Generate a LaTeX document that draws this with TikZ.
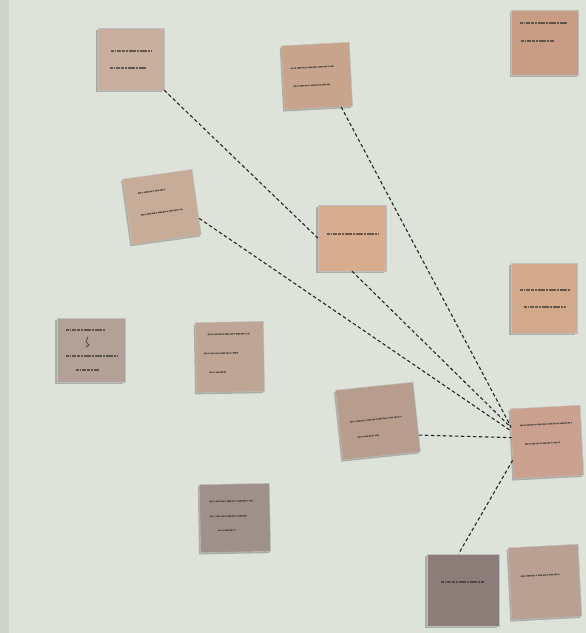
\documentclass[tikz,border=0pt]{standalone}
\usetikzlibrary{shadows}
\definecolor{wall}{HTML}{DDE3D9}
\definecolor{wallL}{HTML}{CDD4CA}
\definecolor{inkc}{HTML}{3A3430}
\definecolor{cA}{HTML}{C8AE9C}
\definecolor{cB}{HTML}{C9A48C}
\definecolor{cC}{HTML}{C89D84}
\definecolor{cD}{HTML}{C7AD98}
\definecolor{cE}{HTML}{D8AC8E}
\definecolor{cF}{HTML}{B3A197}
\definecolor{cG}{HTML}{BFA596}
\definecolor{cH}{HTML}{B89D8F}
\definecolor{cI}{HTML}{C9A18E}
\definecolor{cJ}{HTML}{A0908A}
\definecolor{cK}{HTML}{8C7D78}
\definecolor{cL}{HTML}{BAA092}
\definecolor{cM}{HTML}{D2A98A}
\tikzset{
  note/.style={rectangle, inner sep=0pt, draw=black!25, line width=0.4pt,
    drop shadow={shadow xshift=-1.6pt, shadow yshift=-1.8pt, opacity=0.35, fill=black!70}},
  conn/.style={dash pattern=on 3.5pt off 2.5pt, line width=1.1pt, black!85},
  scribble/.style={inkc, opacity=0.7, line width=1.4pt,
    dash pattern=on 3pt off 0.8pt on 1.6pt off 1pt on 4pt off 0.7pt}
}
\newcommand\stickynote[7]{%
  \node[note, fill=#7, minimum width=#4pt, minimum height=#5pt, rotate=#6] (#1) at (#2,#3) {};}
% scribble: center x, center y, rotation, x1, x2, y
\newcommand\scrib[6]{%
  \draw[scribble, rotate around={#3:(#1,#2)}] (#4,#6) -- (#5,#6);}
\begin{document}
\begin{tikzpicture}[x=1pt,y=-1pt]
\fill[wall] (0,0) rectangle (586,633);
\fill[wallL] (0,0) rectangle (9,633);
\useasboundingbox (0,0) rectangle (586,633);

% notes
\stickynote{n1}{131}{59}{66}{62}{0}{cA}
\stickynote{n2}{317}{76}{68}{64}{3}{cB}
\stickynote{n3}{545}{43}{67}{65}{0}{cC}
\stickynote{n4}{162}{207}{70}{66}{8}{cD}
\stickynote{n5}{352}{238}{68}{66}{0}{cE}
\stickynote{n6}{91}{350}{68}{64}{0}{cF}
\stickynote{n7}{230}{357}{68}{70}{1}{cG}
\stickynote{n8}{378}{421}{78}{70}{6}{cH}
\stickynote{n9}{547}{442}{70}{70}{3}{cI}
\stickynote{n10}{235}{518}{70}{68}{1}{cJ}
\stickynote{n11}{463}{590}{72}{72}{0}{cK}
\stickynote{n12}{545}{582}{70}{72}{3}{cL}
\stickynote{n13}{544}{298}{66}{70}{0}{cM}

% scribbles (illegible handwriting)
\scrib{131}{59}{0}{111}{152}{51}
\scrib{131}{59}{0}{110}{146}{68}
\scrib{317}{76}{3}{291}{334}{67}
\scrib{317}{76}{3}{293}{330}{85}
\scrib{545}{43}{0}{520}{568}{23}
\scrib{545}{43}{0}{521}{554}{41}
\scrib{162}{207}{8}{140}{168}{190}
\scrib{162}{207}{8}{140}{182}{212}
\scrib{352}{238}{0}{327}{378}{234}
\scrib{91}{350}{0}{66}{105}{330}
\draw[inkc, opacity=0.75, line width=1pt] (88,337) -- (86,342) -- (89,345) -- (86,347);
\scrib{91}{350}{0}{66}{118}{356}
\scrib{91}{350}{0}{76}{99}{370}
\scrib{230}{357}{1}{208}{250}{334}
\scrib{230}{357}{1}{204}{238}{353}
\scrib{230}{357}{1}{209}{226}{372}
\scrib{378}{421}{6}{350}{402}{419}
\scrib{378}{421}{6}{356}{378}{435}
\scrib{547}{442}{3}{521}{573}{424}
\scrib{547}{442}{3}{525}{560}{443}
\scrib{235}{518}{1}{210}{253}{501}
\scrib{235}{518}{1}{210}{247}{516}
\scrib{235}{518}{1}{218}{236}{530}
\scrib{463}{590}{0}{441}{484}{582}
\scrib{545}{582}{3}{521}{560}{575}
\scrib{544}{298}{0}{520}{570}{290}
\scrib{544}{298}{0}{524}{566}{307}

% connectors
\draw[conn] (n1.south east) -- (n5.west);
\draw[conn] (n5.south) -- (n9.155);
\draw[conn] (n2.-55) -- (n9.154);
\draw[conn] (n4.-25) -- (n9.160);
\draw[conn] (n8.-25) -- (n9.170);
\draw[conn] (n9.205) -- (n11.97);
\end{tikzpicture}
\end{document}
